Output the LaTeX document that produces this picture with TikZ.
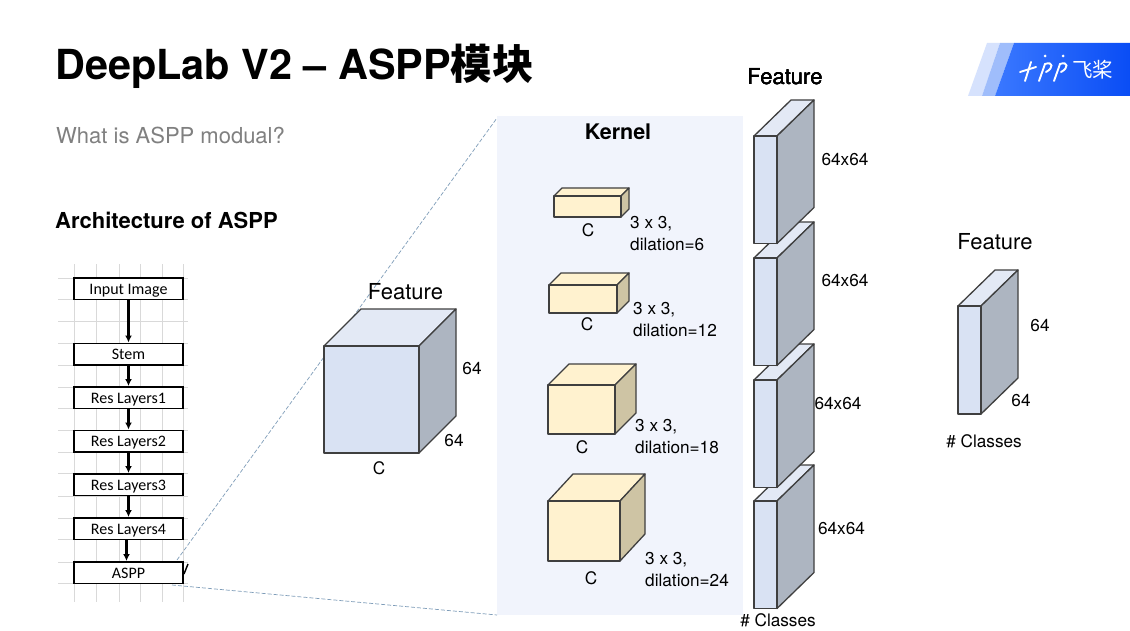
\documentclass[tikz,border=0pt]{standalone}
\usepackage{fontspec}
\setmainfont{TeX Gyre Heros}
\newfontfamily\cjkfont{Noto Sans CJK SC}
\newfontfamily\flowfont{Carlito}
\usetikzlibrary{arrows.meta}
\definecolor{panelblue}{HTML}{F1F4FC}
\definecolor{frontblue}{HTML}{D9E2F3}
\definecolor{sideblue}{HTML}{ADB5C1}
\definecolor{topblue}{HTML}{E3E9F5}
\definecolor{frontyellow}{HTML}{FFF2CF}
\definecolor{sideyellow}{HTML}{CEC4A4}
\definecolor{edgegray}{HTML}{3F3F3F}
\definecolor{gridgray}{HTML}{D9D9D9}
\definecolor{guideblue}{HTML}{7F9DB9}
\definecolor{logolight}{HTML}{D6E2FD}
\definecolor{logomid}{HTML}{9FBDFB}
\definecolor{logoblue}{HTML}{3A78FF}
\definecolor{logodeep}{HTML}{0A4DF5}
\tikzset{
  flowbox/.style={draw=black, line width=1.5pt, fill=white, minimum width=109pt, minimum height=21.5pt, inner sep=0pt, text height=14.5pt, text depth=3pt, font=\flowfont\fontsize{16}{18}\selectfont},
  flowarrow/.style={draw=black, line width=2.2pt, -{Latex[length=7pt,width=7pt]}},
  guide/.style={guideblue, dash pattern=on 4pt off 2pt, line width=0.7pt},
  label/.style={inner sep=0pt, yshift=-0.7pt, font=\fontsize{17.2}{22}\selectfont, align=left},
  headline/.style={inner sep=0pt, font=\fontsize{22}{26}\selectfont},
  logostroke/.style={white, line width=1.9pt, line cap=round},
}
% cuboid: x, y of front corner, width, height, depth x, depth y, front, side, top
\newcommand{\cuboid}[9]{
  \draw[edgegray, line width=1.3pt, line join=round, fill=#9] (#1,#2) -- ++(#5,-#6) -- ++(#3,0) -- ++(-#5,#6) -- cycle;
  \draw[edgegray, line width=1.3pt, line join=round, fill=#8] (#1+#3,#2) -- ++(#5,-#6) -- ++(0,#4) -- ++(-#5,#6) -- cycle;
  \draw[edgegray, line width=1.3pt, line join=round, fill=#7] (#1,#2) rectangle ++(#3,#4);
}
\begin{document}
\begin{tikzpicture}[x=1pt, y=-1pt]
  \useasboundingbox (0,0) rectangle (1130,631);
  \fill[white] (0,0) rectangle (1130,631);

  \node[anchor=base west, inner sep=0pt, font=\bfseries\fontsize{41.4}{48}\selectfont] (title) at (55,79.5) {DeepLab V2 – ASPP{\cjkfont 模块}};
  \node[anchor=base west, inner sep=0pt, text=black!50, font=\fontsize{22}{26}\selectfont] (question) at (56,144) {What is ASPP modual?};
  \node[anchor=base west, inner sep=0pt, font=\bfseries\fontsize{22}{26}\selectfont] (archtitle) at (55,228.5) {Architecture of ASPP};

  % logo
  \fill[logolight] (968,96) -- (987,43) -- (1000,43) -- (982,96) -- cycle;
  \fill[logomid] (982,96) -- (1000,43) -- (1014,43) -- (995,96) -- cycle;
  \shade[left color=logoblue, right color=logodeep] (995,96) -- (1014,43) -- (1130,43) -- (1130,96) -- cycle;
  \draw[logostroke] (1020,72) -- (1036,67);
  \draw[logostroke] (1025,81) -- (1031,62);
  \draw[logostroke] (1039,81) -- (1045,64) .. controls (1053,61) and (1054,68) .. (1046,72);
  \draw[logostroke] (1054,81) -- (1060,64) .. controls (1068,61) and (1069,68) .. (1061,72);
  \fill[white] (1045,56) circle (1.5pt) (1063,56) circle (1.5pt);
  \node[inner sep=0pt, text=white, font=\cjkfont\fontsize{20.5}{21}\selectfont] (logotext) at (1092.5,70) {飞桨};

  % grid behind the flow
  \foreach \gx in {74,96,119,140,162,183}
    \draw[gridgray, line width=0.5pt] (\gx,264) -- (\gx,602);
  \foreach \gy in {278,299,321,343,365,387,408,430,452,473,496,518,539,562,583}
    \draw[gridgray, line width=0.5pt] (58,\gy) -- (188,\gy);

  \node[flowbox] (input) at (128.5,288.5) {Input Image};
  \node[flowbox] (stem) at (128.5,354) {Stem};
  \node[flowbox] (res1) at (128.5,397.5) {Res Layers1};
  \node[flowbox] (res2) at (128.5,441) {Res Layers2};
  \node[flowbox] (res3) at (128.5,484.5) {Res Layers3};
  \node[flowbox] (res4) at (128.5,528.5) {Res Layers4};
  \node[flowbox] (aspp) at (128.5,572.5) {ASPP};
  \draw[flowarrow] (input) -- (stem);
  \draw[flowarrow] (stem) -- (res1);
  \draw[flowarrow] (res1) -- (res2);
  \draw[flowarrow] (res2) -- (res3);
  \draw[flowarrow] (res3) -- (res4);
  \draw[flowarrow] ([xshift=-2pt]res4.south) -- ([xshift=-2pt]aspp.north);
  \draw[line width=1.4pt] (184,574) -- (188,564);

  % panel and zoom guides
  \fill[panelblue] (497,116) rectangle (743,615);
  \coordinate (guideA) at (177,560);
  \coordinate (guideB) at (497,118);
  \coordinate (guideC) at (172,585);
  \coordinate (guideD) at (497,615);
  \draw[guide] (guideA) -- (guideB);
  \draw[guide] (guideC) -- (guideD);

  % feature in
  \cuboid{324}{346}{95}{107}{37}{37}{frontblue}{sideblue}{topblue}
  \node[headline] (featin) at (405.5,292) {Feature};
  \node[label] (featinh) at (472,368) {64};
  \node[label] (featind) at (454,440) {64};
  \node[label] (featinc) at (379,468) {C};

  % kernels
  \node[anchor=base, inner sep=0pt, font=\bfseries\fontsize{21.5}{24}\selectfont] (kernel) at (618,140) {Kernel};
  \cuboid{554}{196}{67}{21}{8}{8}{frontyellow}{sideyellow}{frontyellow}
  \node[label] (cone) at (588,230) {C};
  \node[label, anchor=west] (kone) at (630,233) {3 x 3,\\dilation=6};
  \cuboid{549}{285}{68}{28}{12}{12}{frontyellow}{sideyellow}{frontyellow}
  \node[label] (ctwo) at (587,324) {C};
  \node[label, anchor=west] (ktwo) at (633,318.5) {3 x 3,\\dilation=12};
  \cuboid{548}{385}{67}{49}{21}{21}{frontyellow}{sideyellow}{frontyellow}
  \node[label] (cthree) at (582,447) {C};
  \node[label, anchor=west] (kthree) at (635,436) {3 x 3,\\dilation=18};
  \cuboid{548}{501}{72}{60}{25}{27}{frontyellow}{sideyellow}{frontyellow}
  \node[label] (cfour) at (591,578) {C};
  \node[label, anchor=west] (kfour) at (645,569) {3 x 3,\\dilation=24};

  % feature stack, lowest first
  \foreach \sy in {501,380,258,136}
    \cuboid{754}{\sy}{23}{107.5}{37}{36}{frontblue}{sideblue}{topblue}
  \node[headline] (featstack) at (785,77) {Feature};
  \node[label] (sone) at (845,159) {64x64};
  \node[label] (stwo) at (845,280) {64x64};
  \node[label] (sthree) at (838,403) {64x64};
  \node[label] (sfour) at (841.5,528) {64x64};
  \node[label] (sclasses) at (778,620) {\# Classes};

  % feature out
  \cuboid{958}{306}{23}{108}{37}{36}{frontblue}{sideblue}{topblue}
  \node[headline] (featout) at (995,242) {Feature};
  \node[label] (outh) at (1040,325) {64};
  \node[label] (outd) at (1021,400) {64};
  \node[label] (outclasses) at (984,441) {\# Classes};
\end{tikzpicture}
\end{document}
